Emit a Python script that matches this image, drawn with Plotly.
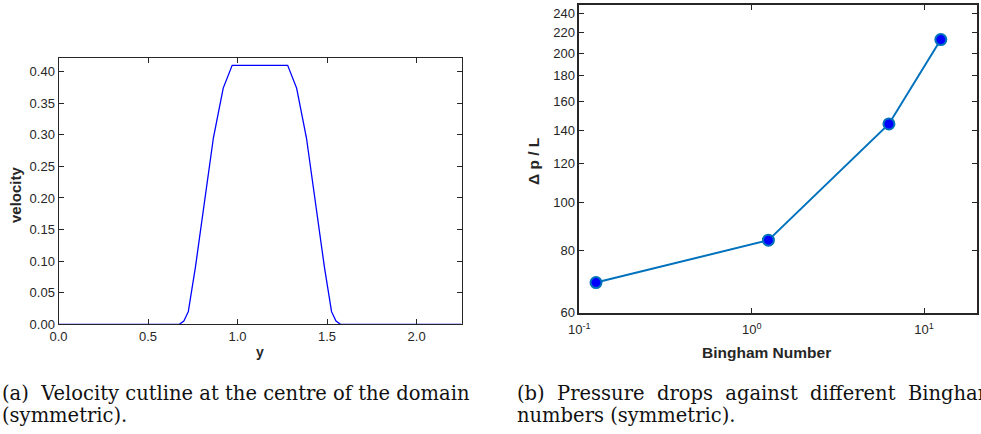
import plotly.graph_objects as go

# Left panel: velocity cutline
y_pos = [0.0, 0.675, 0.70, 0.725, 0.765, 0.865, 0.92, 0.97, 1.28, 1.33, 1.385, 1.485, 1.525, 1.55, 1.575, 2.25]
velocity = [0.0, 0.0, 0.005, 0.02, 0.091, 0.295, 0.374, 0.41, 0.41, 0.374, 0.295, 0.091, 0.02, 0.005, 0.0, 0.0]
x_ticks_left = [0.0, 0.5, 1.0, 1.5, 2.0]
y_ticks_left = [0.0, 0.05, 0.10, 0.15, 0.20, 0.25, 0.30, 0.35, 0.40]

# Right panel: pressure drop vs Bingham number
bingham = [0.125, 1.25, 6.25, 12.5]
dp_over_L = [69, 84, 144, 213]
y_ticks_right = [60, 80, 100, 120, 140, 160, 180, 200, 220, 240]
x_ticks_right = [0.1, 1, 10]
x_ticktext_right = ["10<sup>-1</sup>", "10<sup>0</sup>", "10<sup>1</sup>"]

W, H = 981, 434
def px(x):
    return x / W
def py(y):
    return 1 - y / H

axis_col = "#262626"
tickfont = dict(family="Liberation Sans, Arial, sans-serif", size=13, color=axis_col)

fig = go.Figure()
fig.add_trace(go.Scatter(x=y_pos, y=velocity, mode="lines",
                         line=dict(color="#0000FF", width=1.3),
                         xaxis="x", yaxis="y", showlegend=False, hoverinfo="skip"))
fig.add_trace(go.Scatter(x=bingham, y=dp_over_L, mode="lines+markers",
                         line=dict(color="#0072BD", width=2),
                         marker=dict(size=11, color="#0000FF", line=dict(color="#0072BD", width=2)),
                         xaxis="x2", yaxis="y2", showlegend=False, hoverinfo="skip"))

common = dict(showline=True, linecolor=axis_col, linewidth=1, mirror="ticks",
              ticks="inside", ticklen=5, tickcolor=axis_col, showgrid=False,
              zeroline=False, tickfont=tickfont, automargin=False)

fig.update_layout(
    width=W, height=H, margin=dict(l=0, r=0, t=0, b=0, autoexpand=False),
    paper_bgcolor="white", plot_bgcolor="white",
    xaxis=dict(domain=[px(58.5), px(461.7)], range=[0, 2.252], anchor="y",
               tickvals=x_ticks_left, ticktext=[f"{v:.1f}" for v in x_ticks_left], **common),
    yaxis=dict(domain=[py(324.3), py(58.3)], range=[0, 0.4212], anchor="x",
               tickvals=y_ticks_left, ticktext=[f"{v:.2f}" for v in y_ticks_left], **common),
    xaxis2=dict(domain=[px(579.3), px(976.7)], type="log", range=[-1, 1.305], anchor="y2",
                tickvals=x_ticks_right, ticktext=x_ticktext_right, ticklabelstandoff=4,
                **{**common, "linewidth": 1.5}),
    yaxis2=dict(domain=[py(312.7), py(5)], type="log", range=[1.7782, 2.398], anchor="x2",
                tickvals=y_ticks_right, ticktext=[str(v) for v in y_ticks_right], **{**common, "linewidth": 1.5}),
)

title_font = dict(family="Liberation Sans, Arial, sans-serif", size=15, color=axis_col)
ann = [
    dict(text="<b>velocity</b>", x=px(15), y=py(195), textangle=-90, font=title_font),
    dict(text="<b>y</b>", x=px(260), y=py(352), font=dict(title_font, size=14)),
    dict(text="<b>Δ p / L</b>", x=px(533), y=py(162), textangle=-90, font=dict(title_font, size=15.5)),
    dict(text="<b>Bingham Number</b>", x=px(766), y=py(352), font=dict(title_font, size=15.5)),
]
cap_font = dict(family="DejaVu Serif, Liberation Serif, serif", size=19.5, color="#111111")
caps = [
    dict(text="(a)  Velocity cutline at the centre of the domain", x=px(0), y=py(393)),
    dict(text="(symmetric).", x=px(0), y=py(415)),
    dict(text="(b)  Pressure  drops  against  different  Bingham", x=px(515), y=py(393)),
    dict(text="numbers (symmetric).", x=px(515), y=py(415)),
]
for a in ann:
    fig.add_annotation(xref="paper", yref="paper", showarrow=False, xanchor="center", yanchor="middle", **a)
for c in caps:
    fig.add_annotation(xref="paper", yref="paper", showarrow=False, xanchor="left", yanchor="middle",
                       font=cap_font, **c)

fig.write_html("out.html", config={"displayModeBar": False},
               post_script="document.body.style.margin='0';document.body.style.overflow='hidden';")
